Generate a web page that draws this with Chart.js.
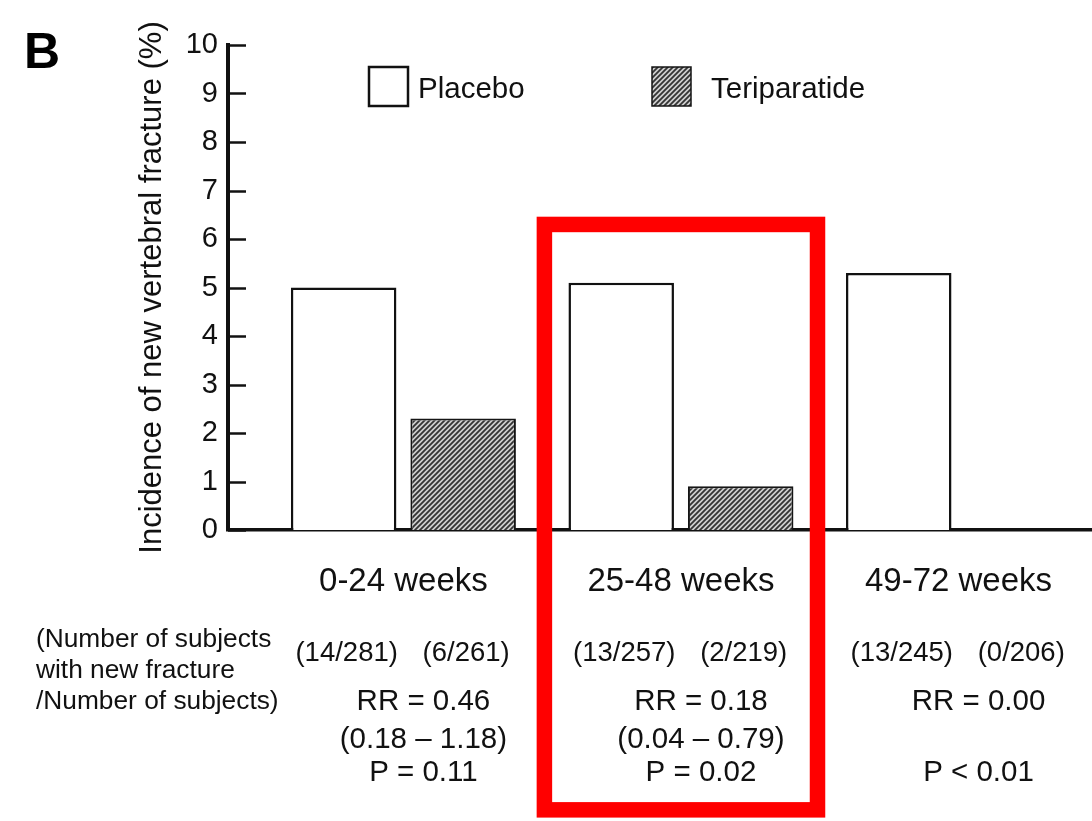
<!DOCTYPE html>
<html>
<head>
<meta charset="utf-8">
<script src="https://cdn.jsdelivr.net/npm/chart.js@4/dist/chart.umd.min.js"></script>
<style>
  html, body { margin: 0; padding: 0; background: #ffffff; }
  #wrap { width: 1092px; height: 821px; }
</style>
</head>
<body>
<div id="wrap"><canvas id="c" width="1092" height="821"></canvas></div>
<script>
// ---- data ----
const categories = ['0-24 weeks', '25-48 weeks', '49-72 weeks'];
const seriesNames = ['Placebo', 'Teriparatide'];
const placeboValues = [5.0, 5.1, 5.3];
const teriparatideValues = [2.3, 0.9, 0.0];
const placeboCounts = ['(14/281)', '(13/257)', '(13/245)'];
const teriparatideCounts = ['(6/261)', '(2/219)', '(0/206)'];
const rrLabels = ['RR = 0.46', 'RR = 0.18', 'RR = 0.00'];
const ciLabels = ['(0.18 \u2013 1.18)', '(0.04 \u2013 0.79)', ''];
const pLabels = ['P = 0.11', 'P = 0.02', 'P < 0.01'];
const countsNote = ['(Number of subjects', 'with new fracture', '/Number of subjects)'];
const yTickValues = [0, 1, 2, 3, 4, 5, 6, 7, 8, 9, 10];
const yAxisTitle = 'Incidence of new vertebral fracture (%)';
const panelLabel = 'B';
const highlightCategory = 1;

// ---- styles ----
const FONT = '"Liberation Sans", Arial, Helvetica, sans-serif';
const INK = '#111111';

function makeHatch() {
  const s = 5;
  const cv = document.createElement('canvas');
  cv.width = s; cv.height = s;
  const g = cv.getContext('2d');
  g.fillStyle = '#cfcfcf';
  g.fillRect(0, 0, s, s);
  g.strokeStyle = '#333333';
  g.lineWidth = 1.8;
  g.beginPath();
  g.moveTo(-1, s + 1); g.lineTo(s + 1, -1);
  g.moveTo(-1, 1); g.lineTo(1, -1);
  g.moveTo(s - 1, s + 1); g.lineTo(s + 1, s - 1);
  g.stroke();
  return g.createPattern(cv, 'repeat');
}
const ctx0 = document.getElementById('c').getContext('2d');
const hatch = makeHatch();

const extrasPlugin = {
  id: 'extras',
  afterDraw(chart) {
    const ctx = chart.ctx;
    const xs = chart.scales.x, ys = chart.scales.y;
    const area = chart.chartArea;
    ctx.save();

    // inward y ticks
    ctx.strokeStyle = INK;
    ctx.lineWidth = 2.5;
    yTickValues.forEach(v => {
      const y = Math.round(ys.getPixelForValue(v)) + 0.5;
      ctx.beginPath();
      ctx.moveTo(area.left, y);
      ctx.lineTo(area.left + 18, y);
      ctx.stroke();
    });

    // panel label
    ctx.fillStyle = '#000';
    ctx.font = 'bold 50px ' + FONT;
    ctx.textAlign = 'left';
    ctx.textBaseline = 'alphabetic';
    ctx.fillText(panelLabel, 24, 68);

    // legend (built from datasets)
    const legendBoxX = [369, 652];
    const legendTextX = [418, 711];
    const boxTop = 67, boxSize = 39;
    ctx.font = '29.5px ' + FONT;
    ctx.textBaseline = 'middle';
    chart.data.datasets.forEach((ds, i) => {
      const bx = legendBoxX[i];
      ctx.fillStyle = ds.backgroundColor;
      ctx.fillRect(bx, boxTop, boxSize, boxSize);
      ctx.strokeStyle = ds.borderColor;
      ctx.lineWidth = i === 0 ? 2.5 : 1.5;
      ctx.strokeRect(bx, boxTop, boxSize, boxSize);
      ctx.fillStyle = INK;
      ctx.fillText(ds.label, legendTextX[i], boxTop + boxSize / 2 + 3);
    });

    // counts under bars
    const metaP = chart.getDatasetMeta(0), metaT = chart.getDatasetMeta(1);
    const base = area.bottom;
    ctx.fillStyle = INK;
    ctx.textAlign = 'center';
    ctx.textBaseline = 'middle';
    ctx.font = '27.5px ' + FONT;
    categories.forEach((c, i) => {
      ctx.fillText(placeboCounts[i], metaP.data[i].x + 3, base + 123);
      ctx.fillText(teriparatideCounts[i], metaT.data[i].x + 3, base + 123);
    });
    // RR / CI / P
    ctx.font = '29.5px ' + FONT;
    categories.forEach((c, i) => {
      const cx = xs.getPixelForValue(i) + 20;
      ctx.fillText(rrLabels[i], cx, base + 172);
      if (ciLabels[i]) ctx.fillText(ciLabels[i], cx, base + 210);
      ctx.fillText(pLabels[i], cx, base + 243);
    });
    // left note
    ctx.textAlign = 'left';
    ctx.font = '26.3px ' + FONT;
    countsNote.forEach((t, k) => {
      ctx.fillText(t, 36, base + 110 + k * 31);
    });

    // highlight box around a category
    const lw = 15.5;
    const x1 = xs.getPixelForValue(highlightCategory - 0.492);
    const x2 = xs.getPixelForValue(highlightCategory + 0.492);
    const y1 = ys.getPixelForValue(6.3);
    const y2 = ys.getPixelForValue(-5.77);
    ctx.strokeStyle = '#ff0000';
    ctx.lineWidth = lw;
    ctx.strokeRect(x1, y1, x2 - x1, y2 - y1);
    ctx.restore();
  }
};

new Chart(ctx0, {
  type: 'bar',
  data: {
    datasets: [
      {
        label: seriesNames[0],
        data: placeboValues.map((v, i) => ({ x: i, y: v })),
        backgroundColor: '#ffffff',
        borderColor: '#111111',
        borderWidth: 2.5,
        borderSkipped: 'bottom',
        categoryPercentage: 0.861,
        barPercentage: 0.883
      },
      {
        label: seriesNames[1],
        data: teriparatideValues.map((v, i) => ({ x: i, y: v })),
        backgroundColor: hatch,
        borderColor: '#151515',
        borderWidth: 2,
        borderSkipped: 'bottom',
        categoryPercentage: 0.861,
        barPercentage: 0.883
      }
    ]
  },
  options: {
    responsive: false,
    animation: false,
    devicePixelRatio: 1,
    layout: { padding: { top: 45, right: 0, bottom: 0, left: 0 } },
    plugins: {
      legend: { display: false },
      tooltip: { enabled: false },
      title: { display: false }
    },
    scales: {
      x: {
        type: 'linear',
        position: 'bottom',
        offset: false,
        bounds: 'data',
        min: -0.632,
        max: 2.481,
        z: 1,
        grid: { display: false, drawTicks: false, offset: false },
        border: { display: true, color: '#111111', width: 3.5 },
        afterBuildTicks: (s) => { s.ticks = categories.map((c, i) => ({ value: i })); },
        afterFit: (s) => { s.height = 291; },
        ticks: {
          autoSkip: false,
          maxRotation: 0,
          padding: 32,
          color: INK,
          font: { family: FONT, size: 33 },
          callback: (v) => categories[Math.round(v)]
        }
      },
      y: {
        min: 0,
        max: 10,
        z: 1,
        grid: { display: false, drawTicks: false },
        border: { display: true, color: '#111111', width: 4 },
        afterBuildTicks: (s) => { s.ticks = yTickValues.map(v => ({ value: v })); },
        afterFit: (s) => { s.width = 228; },
        ticks: {
          padding: 10,
          color: INK,
          font: { family: FONT, size: 29 }
        },
        title: {
          display: true,
          text: yAxisTitle,
          color: INK,
          font: { family: FONT, size: 31 },
          padding: { top: 134, bottom: 0 }
        }
      }
    }
  },
  plugins: [extrasPlugin]
});
</script>
</body>
</html>
